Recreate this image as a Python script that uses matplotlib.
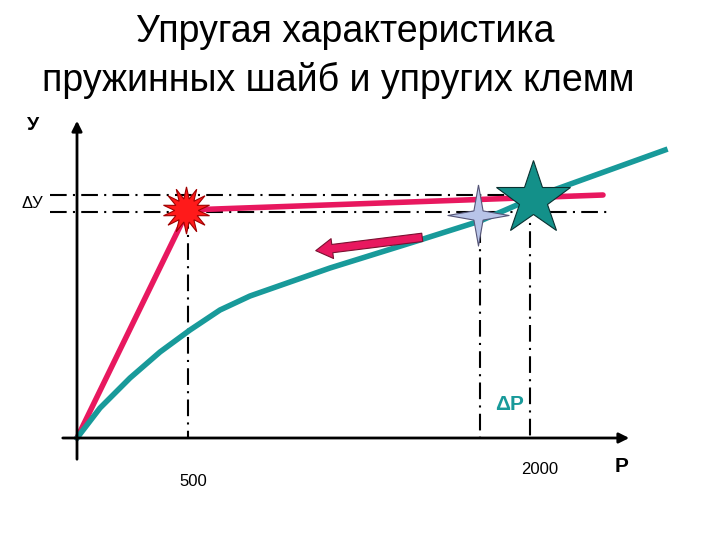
import matplotlib.pyplot as plt
from matplotlib.path import Path

plt.rcParams['font.family'] = ['Liberation Sans', 'DejaVu Sans']

# coordinates in picture units (x to the right, y downward)
spring_x = [77, 188, 603]
spring_y = [438, 210, 195]
clamp_x = [77, 100, 130, 160, 190, 220, 250, 290, 330, 420, 480, 540, 665]
clamp_y = [438, 408, 378, 352, 330, 310, 296, 282, 268, 240, 221, 195, 150]
tick_labels = ['500', '2000']

fig = plt.figure(figsize=(7.2, 5.4), dpi=100)
ax = fig.add_axes([0, 0, 1, 1])
ax.set_xlim(0, 720)
ax.set_ylim(540, 0)
ax.axis('off')

ax.text(345, 32, 'Упругая характеристика', ha='center', va='center', fontsize=27)
ax.text(338, 80, 'пружинных шайб и упругих клемм', ha='center', va='center', fontsize=27)

# axes arrows
ax.annotate('', xy=(77, 118), xytext=(77, 462),
            arrowprops=dict(arrowstyle='-|>', color='black', lw=2, mutation_scale=15))
ax.annotate('', xy=(632, 438), xytext=(60, 438),
            arrowprops=dict(arrowstyle='-|>', color='black', lw=2, mutation_scale=15))

# dash-dot guides
dd = dict(color='black', lw=1.5, ls=(0, (8, 3, 1, 3)))
ax.plot([50, 600], [195, 195], **dd)
ax.plot([50, 610], [212, 212], **dd)
ax.plot([188, 188], [212, 438], **dd)
ax.plot([480, 480], [195, 438], **dd)
ax.plot([530, 530], [200, 438], **dd)

ax.plot(spring_x, spring_y, color='#e8185f', lw=4, solid_capstyle='round')
ax.plot(clamp_x, clamp_y, color='#189a9a', lw=4)

ax.annotate('', xy=(313, 251), xytext=(425, 237),
            arrowprops=dict(arrowstyle='simple,head_length=1,head_width=1.2,tail_width=0.5',
                            fc='#e8185f', ec='#7a1030', lw=0.8, mutation_scale=12))

# markers
ax.plot(186, 210, marker=(14, 1, 0), ms=34, color='#ff1a1a', mec='#a00000', mew=0.8)
star4 = Path([(0, 1), (0.15, 0.15), (1, 0), (0.15, -0.15), (0, -1), (-0.15, -0.15),
              (-1, 0), (-0.15, 0.15), (0, 1)])
ax.plot(478, 215, marker=star4, ms=44, color='#b8c4e8', mec='#555577', mew=0.8)
ax.plot(533, 199, marker='*', ms=56, color='#139089', mec='#0a3030', mew=0.8)

ax.text(27, 125, 'У', fontsize=14, fontweight='bold', va='center')
ax.text(22, 203, 'ΔУ', fontsize=12, va='center')
ax.text(510, 405, 'ΔР', fontsize=15, fontweight='bold', color='#189a9a', ha='center', va='center')
ax.text(193, 482, tick_labels[0], fontsize=12, ha='center', va='center')
ax.text(540, 470, tick_labels[1], fontsize=12, ha='center', va='center')
ax.text(622, 467, 'Р', fontsize=15, fontweight='bold', ha='center', va='center')

fig.savefig('out.png', dpi=100)
